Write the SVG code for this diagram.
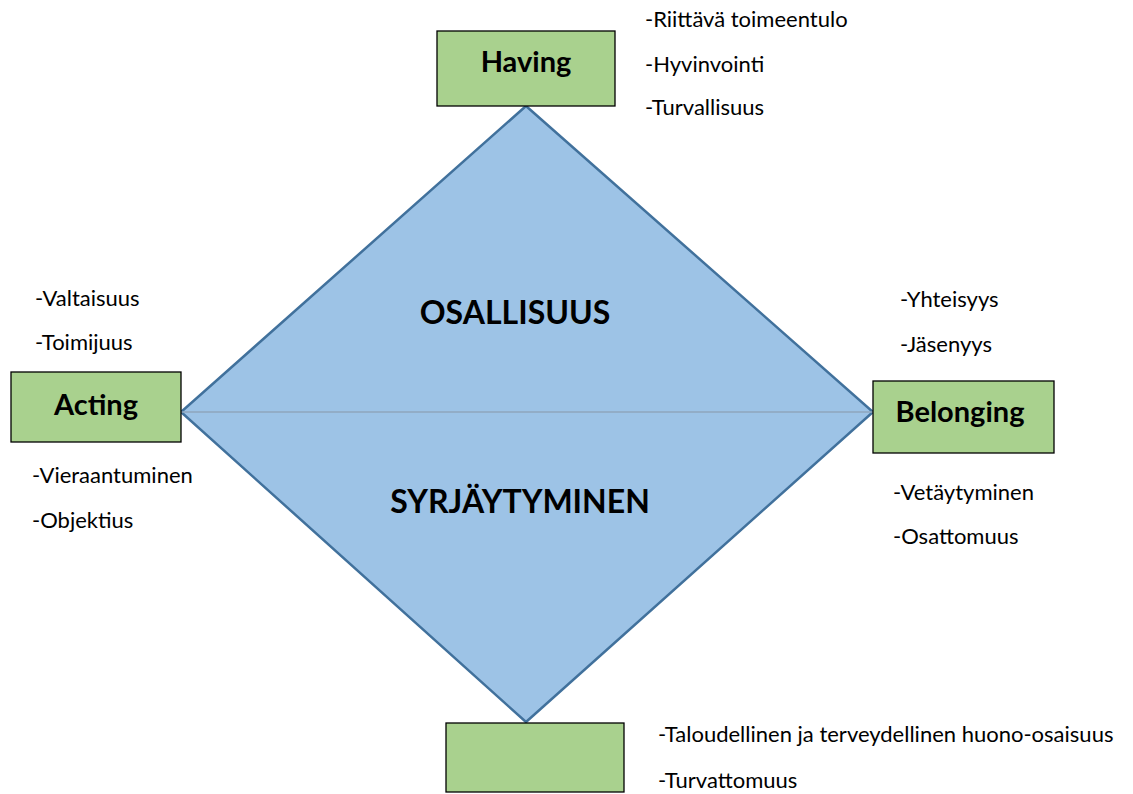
<svg xmlns="http://www.w3.org/2000/svg" width="1133" height="794" viewBox="0 0 1133 794">
<style>
.box{fill:#a9d18e;stroke:#000;stroke-width:1.3}
.lbl{font-family:Lato,"Open Sans",sans-serif;font-weight:bold;font-size:29px;fill:#000;text-anchor:middle}
.big{font-family:Lato,"Open Sans",sans-serif;font-weight:bold;font-size:32px;fill:#000;text-anchor:middle}
.item{font-family:Lato,"Open Sans",sans-serif;font-size:22px;fill:#000}
</style>
<rect width="1133" height="794" fill="#fff"/>
<g id="diamond">
<polygon points="526,106 873,412 526,722 181,412" fill="#9dc3e6" stroke="#41719c" stroke-width="2.5" stroke-linejoin="miter"/>
<text class="big" x="515" y="324">OSALLISUUS</text>
<text class="big" x="520" y="513">SYRJÄYTYMINEN</text>
</g>
<g id="connectors">
<line x1="181" y1="412" x2="873" y2="412" stroke="#8fa6bd" stroke-width="1.5"/>
</g>
<g id="having">
<rect class="box" x="437" y="31" width="178" height="75"/>
<text class="lbl" x="526" y="72">Having</text>
</g>
<g id="acting">
<rect class="box" x="11" y="372" width="170" height="70" stroke-width="2.2"/>
<text class="lbl" x="96" y="415">Acting</text>
</g>
<g id="belonging">
<rect class="box" x="873" y="381" width="181" height="72"/>
<text class="lbl" x="960" y="422">Belonging</text>
</g>
<g id="bottom">
<rect class="box" x="446" y="723" width="178" height="69"/>
</g>
<g id="having-items">
<text class="item" x="645" y="27">-Riittävä toimeentulo</text>
<text class="item" x="645" y="72">-Hyvinvointi</text>
<text class="item" x="645" y="115">-Turvallisuus</text>
</g>
<g id="acting-items">
<text class="item" x="35" y="306">-Valtaisuus</text>
<text class="item" x="35" y="350">-Toimijuus</text>
<text class="item" x="32" y="483">-Vieraantuminen</text>
<text class="item" x="32" y="528">-Objektius</text>
</g>
<g id="belonging-items">
<text class="item" x="900" y="307">-Yhteisyys</text>
<text class="item" x="900" y="352">-Jäsenyys</text>
<text class="item" x="893" y="500">-Vetäytyminen</text>
<text class="item" x="893" y="544">-Osattomuus</text>
</g>
<g id="bottom-items">
<text class="item" x="658" y="742">-Taloudellinen ja terveydellinen huono-osaisuus</text>
<text class="item" x="658" y="788">-Turvattomuus</text>
</g>
</svg>
